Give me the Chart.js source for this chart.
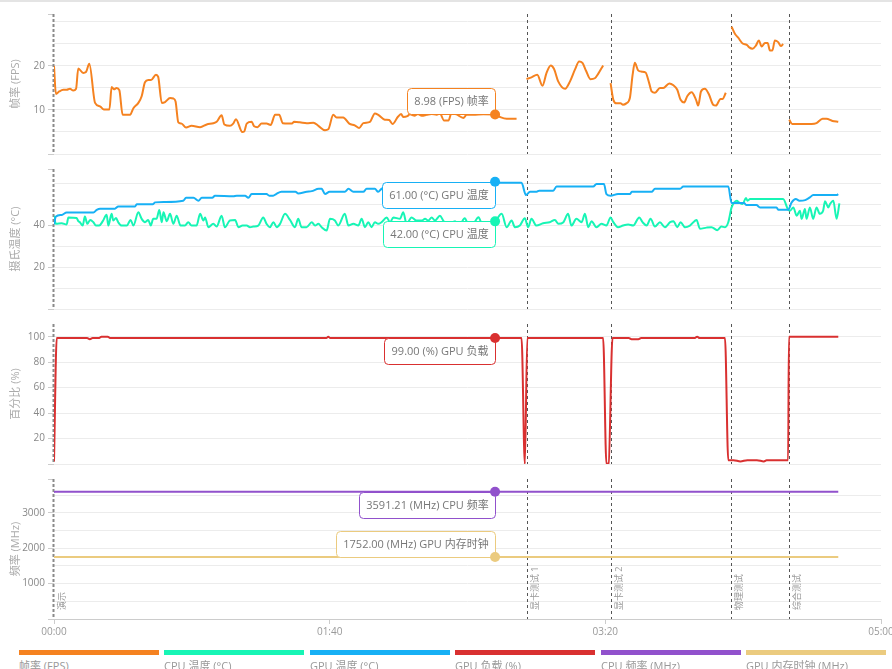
<!DOCTYPE html>
<html>
<head>
<meta charset="utf-8">
<script src="https://cdn.jsdelivr.net/npm/chart.js@4.4.1/dist/chart.umd.min.js"></script>
<style>
  html, body { margin: 0; padding: 0; overflow: hidden; background: #fff; }
  body { width: 892px; height: 669px; position: relative; font-family: 'Open Sans', 'Noto Sans CJK SC', sans-serif; }
  .topline { position: absolute; left: 0; top: 0; width: 892px; height: 2px; background: #e4e4e4; }
  canvas.panel { position: absolute; left: 0; }
  .legend-item { position: absolute; top: 650px; width: 140px; }
  .legend-item .bar { height: 5px; }
  .legend-item .label { font-size: 11px; color: #999; margin-top: 2px; white-space: nowrap; }
</style>
</head>
<body>
<div class="topline"></div>
<script>
const FONT = "'Open Sans', 'Noto Sans CJK SC', sans-serif";
Chart.defaults.font.family = FONT;

// test phases (seconds) and their names
const eventTimes = [0, 171.6, 202, 245.6, 266.6];
const eventNames = ['演示', '显卡测试 1', '显卡测试 2', '物理测试', '综合测试'];
const timeTicks = [0, 100, 200, 300];
const hoverTime = 160;

// [seconds, value]; null = no sample
const fpsSeries = [
  [0,20.0],[0.7,13.6],[1.9,14.2],[3.4,14.6],[4.6,14.6],[5.8,14.8],[7.0,14.4],[8.0,14.8],[8.8,19.4],[10.6,18.4],
  [11.6,18.6],[12.8,20.5],[14.9,11.6],[16.7,10.8],[18.1,10.1],[20.1,10.1],[20.9,15.2],[21.8,14.7],[22.7,15.0],[23.7,14.5],
  [24.9,8.9],[27.6,8.9],[28.8,10.4],[30.6,11.6],[31.8,13.1],[33.0,16.3],[34.2,16.8],[35.2,16.8],[37.0,18.0],[37.8,17.5],
  [39.1,11.6],[40.3,11.8],[42.1,12.7],[43.3,12.6],[44.1,11.9],[45.1,7.2],[46.3,6.9],[47.9,6.0],[49.9,6.4],[53.0,6.1],
  [55.4,6.7],[57.8,7.0],[59.0,7.3],[60.8,8.8],[61.8,6.7],[63.8,6.4],[65.0,6.9],[66.0,7.9],[68.3,5.0],[69.0,5.1],
  [69.9,6.9],[71.7,7.3],[72.6,6.3],[73.8,6.1],[75.3,6.9],[77.1,6.9],[78.6,6.6],[80.2,8.9],[81.7,8.9],[83.0,7.0],
  [85.0,6.9],[86.3,6.9],[87.1,7.3],[89.2,7.2],[91.7,7.0],[94.1,7.1],[95.9,6.4],[98.3,5.4],[99.5,5.6],[101.3,8.9],
  [102.5,8.3],[104.9,8.3],[107.1,6.9],[109.1,6.5],[110.7,5.9],[112.2,7.0],[114.6,7.3],[116.4,9.2],[117.6,8.9],[120.0,7.8],
  [121.6,7.7],[122.8,6.8],[124.7,8.4],[125.9,9.1],[126.7,8.4],[128.2,8.6],[129.1,9.0],[130.9,8.7],[132.0,9.1],[133.4,8.7],
  [135.2,8.9],[137.0,9.1],[138.8,8.9],[140.0,9.2],[141.5,7.6],[143.1,7.6],[144.2,9.3],[146.0,9.0],[148.5,8.2],[149.7,8.9],
  [152.1,8.9],[155.7,9.0],[160,8.98],[161.8,8.4],[164.2,8.0],[167.8,8.0],[169.5,null],
  [171.4,17.0],[173.2,17.4],[175.3,18.0],[177.2,15.5],[178.7,18.5],[180.2,20.1],[181.4,19.3],[182.9,16.5],[185.4,14.8],[187.2,16.5],
  [189.0,19.2],[190.5,21.0],[191.7,20.7],[193.0,18.9],[194.6,17.0],[196.2,17.2],[197.4,18.2],[199.2,20.1],[200.5,null],
  [201.9,16.1],[202.9,12.3],[204.1,11.5],[205.5,11.5],[206.4,11.2],[207.6,11.5],[208.9,12.7],[209.9,18.0],[210.7,20.7],[211.9,19.0],
  [213.2,18.7],[214.6,18.5],[215.9,16.1],[216.8,14.2],[218.0,13.9],[219.8,15.0],[221.0,15.0],[223.2,16.0],[224.7,15.6],[226.1,14.6],
  [227.3,12.3],[228.6,11.7],[229.7,13.1],[231.3,14.0],[232.9,12.3],[233.7,11.0],[234.7,14.2],[236.1,14.8],[237.6,13.5],[239.1,11.2],
  [240.1,11.0],[241.8,12.5],[242.5,12.5],[243.7,13.9],[244.6,null],
  [245.8,28.9],[247.0,27.3],[248.2,26.4],[249.8,25.1],[251.3,24.8],[252.2,24.2],[253.4,23.9],[254.6,24.6],[255.7,25.8],[256.7,24.4],
  [257.9,25.2],[258.9,25.2],[259.7,23.5],[260.6,23.5],[261.5,25.8],[262.7,25.4],[263.7,24.5],[264.5,25.0],[265.5,null],
  [266.7,7.8],[267.8,6.8],[270.2,6.8],[274.8,6.8],[276.6,7.0],[278.8,8.0],[280.2,8.0],[282.4,7.5],[284.5,7.3]
];

const gpuTempSeries = [
  [0,40.6],[0.7,44.3],[2.8,45.1],[4.6,46.2],[14.3,46.2],[15.5,47.5],[16.7,48.1],[22.1,48.1],[23.3,49.1],[29.4,49.1],
  [30.0,50.2],[35.8,50.2],[36.7,51.1],[40.0,51.3],[46.9,51.9],[47.9,53.3],[50.6,53.3],[52.4,51.9],[53.6,53.3],[57.4,53.3],
  [58.4,54.3],[65.0,54.0],[66.3,54.3],[69.3,54.3],[70.5,53.3],[71.7,55.1],[77.1,55.1],[78.1,54.3],[79.5,54.3],[80.6,55.1],
  [82.5,56.2],[87.6,56.2],[88.5,55.4],[91.7,56.2],[93.5,56.5],[96.0,57.6],[97.1,57.6],[98.3,55.1],[100.0,56.2],[105.5,56.2],
  [106.8,57.6],[108.6,56.2],[112.2,56.2],[113.4,57.6],[116.4,57.6],[117.6,56.2],[118.8,57.6],[120.7,58.7],[130.0,58.7],[132.0,60.0],
  [158.0,60.0],[160,61.0],[162.0,60.5],[169.6,60.5],[171.2,54.6],[172.7,56.2],[175.1,56.2],[176.0,56.7],[181.1,56.7],[182.3,58.7],
  [195.6,58.7],[196.8,59.9],[199.5,59.9],[200.4,55.1],[201.9,54.3],[204.6,55.1],[208.9,55.1],[209.6,56.2],[216.8,56.2],[218.0,57.6],
  [227.1,57.6],[228.3,58.7],[244.6,58.7],[245.8,50.8],[250.3,50.8],[251.2,49.8],[254.8,49.8],[256.1,48.7],[262.1,48.7],[262.7,47.6],
  [266.3,47.6],[267.6,51.1],[269.1,52.7],[270.4,51.9],[272.5,52.2],[274.2,53.5],[275.4,54.6],[283.9,54.6],[284.5,55.1]
];

const cpuTempSeries = [
  [0,44.7],[0.7,40.8],[2.8,41.1],[4.6,40.5],[5.2,43.9],[8.2,43.6],[8.8,42.1],[9.4,41.6],[10.4,40.0],[11.2,44.3],
  [12.1,40.8],[13.1,42.7],[14.3,41.6],[15.2,40.0],[16.4,40.0],[17.7,42.1],[19.1,45.2],[19.7,40.0],[20.9,45.6],[21.5,42.4],
  [22.5,43.6],[23.3,41.6],[24.5,40.0],[26.4,40.0],[27.8,42.7],[28.8,40.0],[30.6,46.4],[31.8,43.2],[33.0,41.6],[34.2,42.7],
  [35.1,40.0],[36.0,43.2],[37.2,43.2],[38.2,47.5],[39.1,41.6],[39.7,46.4],[40.9,42.1],[42.1,45.6],[43.3,40.8],[44.5,44.7],
  [45.9,40.0],[47.5,40.0],[48.7,41.6],[49.9,40.0],[51.7,40.0],[53.0,45.6],[54.2,42.4],[54.8,43.9],[56.0,39.2],[57.8,40.8],
  [59.0,39.5],[60.8,44.7],[62.0,39.2],[63.8,42.4],[65.7,42.7],[66.9,39.2],[68.4,40.0],[69.9,40.0],[71.1,39.2],[72.3,39.5],
  [74.1,40.0],[75.9,43.9],[77.1,40.8],[78.3,39.2],[79.6,41.6],[80.8,39.2],[82.0,40.8],[83.8,45.6],[85.6,42.7],[87.4,39.2],
  [88.6,43.2],[89.8,39.2],[91.6,39.2],[93.5,41.6],[94.7,40.0],[95.9,40.8],[97.1,39.2],[98.9,37.6],[100.1,43.2],[101.9,42.4],
  [103.1,40.0],[105.5,45.6],[106.8,40.0],[108.6,40.8],[110.4,40.0],[111.6,43.2],[112.8,39.2],[114.0,41.6],[115.2,39.2],[116.4,41.6],
  [117.6,40.8],[118.8,41.6],[120.7,43.9],[121.9,41.6],[123.1,43.9],[125.5,43.2],[126.7,46.4],[127.9,40.8],[129.7,43.9],[131.5,42.4],
  [133.4,42.4],[134.6,43.2],[135.8,42.4],[137.0,43.9],[138.2,42.4],[140.0,44.7],[141.2,42.4],[143.0,40.0],[145.5,42.0],[147.0,40.0],
  [149.0,43.5],[150.5,40.0],[152.0,40.5],[154.0,44.0],[155.5,40.0],[157.5,41.0],[160,42.0],[162.4,45.6],[164.2,39.2],[166.0,42.4],
  [167.2,39.2],[169.0,40.0],[170.8,43.5],[172.0,39.2],[173.2,43.2],[175.0,40.0],[177.4,41.1],[179.8,41.6],[181.7,42.7],[183.0,40.8],
  [184.8,41.6],[186.5,45.6],[187.7,40.0],[189.5,43.2],[191.4,41.6],[192.6,45.6],[193.8,39.2],[195.0,42.1],[196.8,39.2],[198.6,40.8],
  [200.4,40.0],[201.9,43.9],[202.9,41.6],[204.6,39.2],[206.4,40.0],[208.3,40.5],[210.1,40.0],[212.3,43.9],[213.5,41.6],[215.0,40.0],
  [216.4,43.2],[218.0,39.5],[219.8,41.6],[221.6,39.2],[223.5,41.6],[224.7,42.1],[226.1,39.2],[227.3,41.6],[228.9,39.2],[230.7,40.0],
  [233.1,42.7],[234.3,38.5],[236.7,39.0],[238.5,39.2],[240.6,37.8],[242.1,39.5],[243.4,39.2],[244.6,41.6],[245.8,48.7],[246.8,51.1],
  [247.7,51.9],[248.5,51.1],[249.8,50.3],[251.0,53.2],[251.6,51.9],[252.5,52.7],[264.5,52.7],[266.3,47.6],[267.0,47.1],[268.2,48.7],
  [269.4,44.7],[270.6,47.1],[271.2,43.2],[272.4,47.9],[273.0,43.2],[274.2,48.7],[275.4,43.2],[276.6,48.7],[277.8,45.6],[279.0,47.1],
  [279.7,51.6],[280.9,48.7],[281.5,50.3],[282.7,51.9],[283.9,43.2],[284.9,50.6]
];

const gpuLoadSeries = [
  [0,2],[1.0,99],[12.0,99],[13.0,98],[14.0,99],[16.4,99],[17.2,100],[19.5,100],[20.3,99],[98.8,99],
  [99.5,100],[100.2,99],[160,99],[169.6,99],[170.8,0],[171.7,99],[199.2,99],[200.4,0],[201.2,0.5],[202.6,99],
  [208.5,99],[209.5,98],[212.0,98],[213.0,99],[232.5,99],[233.3,100],[234.2,99],[243.4,99],[244.6,3],[246.5,3],
  [249.0,2],[251.5,3],[255.0,3],[257.5,2],[258.5,3],[266.3,3],[266.6,100],[284.5,100]
];

const cpuFreqSeries = [
  [0,3588],[1,3591],[30,3593],[60,3589],[90,3592],[120,3590],[160,3591.21],[200,3589],[230,3592],[245.6,3590],
  [266.6,3592],[284.5,3591]
];

const memClockSeries = [[0,1752],[160,1752],[284.5,1752]];

// tick values that carry a label on each y axis
const fpsTickLabels = [10, 20];
const tempTickLabels = [20, 40];
const loadTickLabels = [20, 40, 60, 80, 100];
const freqTickLabels = [1000, 2000, 3000];

const S = {
  fps:     { name: '帧率', unit: 'FPS', legend: '帧率 (FPS)', color: '#f58220', points: fpsSeries, below: false },
  cpuTemp: { name: 'CPU 温度', unit: '°C', legend: 'CPU 温度 (°C)', color: '#17f5b5', points: cpuTempSeries, below: true },
  gpuTemp: { name: 'GPU 温度', unit: '°C', legend: 'GPU 温度 (°C)', color: '#17b0f5', points: gpuTempSeries, below: true },
  gpuLoad: { name: 'GPU 负载', unit: '%', legend: 'GPU 负载 (%)', color: '#d93030', points: gpuLoadSeries, below: true },
  cpuFreq: { name: 'CPU 频率', unit: 'MHz', legend: 'CPU 频率 (MHz)', color: '#9151cc', points: cpuFreqSeries, below: true },
  memClock:{ name: 'GPU 内存时钟', unit: 'MHz', legend: 'GPU 内存时钟 (MHz)', color: '#ebcb7f', points: memClockSeries, below: false }
};

const panels = [
  { top: 14,  title: '帧率 (FPS)',    step: 5,   labels: fpsTickLabels,  series: [S.fps] },
  { top: 169, title: '摄氏温度 (°C)', step: 10,  labels: tempTickLabels, series: [S.gpuTemp, S.cpuTemp] },
  { top: 324, title: '百分比 (%)',    step: 10,  labels: loadTickLabels, series: [S.gpuLoad] },
  { top: 479, title: '频率 (MHz)',    step: 500, labels: freqTickLabels, series: [S.cpuFreq, S.memClock] }
];

function fmtTime(v) {
  const m = Math.floor(v / 60), s = Math.round(v % 60);
  return String(m).padStart(2, '0') + ':' + String(s).padStart(2, '0');
}

const eventPlugin = {
  id: 'phaseLines',
  beforeDatasetsDraw(chart, args, opts) {
    const { ctx, chartArea: a, scales: { x } } = chart;
    ctx.save();
    eventTimes.forEach((t, i) => {
      const px = Math.round(x.getPixelForValue(t));
      ctx.beginPath();
      if (i === 0) {
        ctx.setLineDash([3, 2]); ctx.lineWidth = 2; ctx.strokeStyle = '#8a8a8a';
        ctx.moveTo(px - 0.5, a.top); ctx.lineTo(px - 0.5, a.bottom);
      } else {
        ctx.setLineDash([3, 3]); ctx.lineWidth = 1; ctx.strokeStyle = '#555';
        ctx.moveTo(px + 0.5, a.top); ctx.lineTo(px + 0.5, a.bottom);
      }
      ctx.stroke();
      if (opts.labels) {
        ctx.save();
        ctx.setLineDash([]);
        ctx.translate(px + 8, a.bottom - 9);
        ctx.rotate(-Math.PI / 2);
        ctx.font = '9px ' + FONT;
        ctx.fillStyle = '#999';
        ctx.textAlign = 'left';
        ctx.textBaseline = 'middle';
        ctx.fillText(eventNames[i], 0, 0);
        ctx.restore();
      }
    });
    ctx.restore();
  }
};

const hoverPlugin = {
  id: 'hoverBoxes',
  afterDatasetsDraw(chart) {
    const { ctx, scales } = chart;
    chart.data.datasets.forEach(ds => {
      const pt = ds.data.find(d => d.x === hoverTime);
      if (!pt) return;
      const px = scales.x.getPixelForValue(pt.x);
      const py = scales.y.getPixelForValue(pt.y);
      const text = pt.y.toFixed(2) + ' (' + ds.unit + ') ' + ds.label;
      ctx.save();
      ctx.font = '11px ' + FONT;
      const w = Math.round(ctx.measureText(text).width + 14), h = 26;
      const bx = Math.round(px - w) + 0.5;
      const by = Math.round(ds.below ? py : py - h) + 0.5;
      ctx.beginPath();
      ctx.roundRect(bx, by, w, h, 4);
      ctx.fillStyle = '#fff';
      ctx.fill();
      ctx.lineWidth = 1;
      ctx.strokeStyle = ds.borderColor;
      ctx.stroke();
      ctx.fillStyle = '#777';
      ctx.textAlign = 'center';
      ctx.textBaseline = 'middle';
      ctx.fillText(text, bx + w / 2, by + h / 2 + 0.5);
      ctx.beginPath();
      ctx.arc(px, py, 5, 0, Math.PI * 2);
      ctx.fillStyle = ds.borderColor;
      ctx.fill();
      ctx.restore();
    });
  }
};

const W = 910, PLOT_H = 140, PAD = 10, X_AXIS_H = 26, RIGHT = 881;

panels.forEach((p, i) => {
  const last = i === panels.length - 1;
  const h = PAD + PLOT_H + (last ? X_AXIS_H : PAD);
  const cv = document.createElement('canvas');
  cv.className = 'panel';
  cv.width = W; cv.height = h;
  cv.style.width = W + 'px'; cv.style.height = h + 'px';
  cv.style.top = (p.top - PAD) + 'px';
  document.body.appendChild(cv);

  const vals = p.series.flatMap(s => s.points.map(d => d[1]).filter(v => v !== null));
  const yMax = Math.max(...vals) * 1.1;
  const isStep = v => Math.abs(v / p.step - Math.round(v / p.step)) < 1e-6;

  new Chart(cv, {
    type: 'line',
    data: {
      datasets: p.series.map(s => ({
        label: s.name,
        unit: s.unit,
        below: s.below,
        data: s.points.map(d => ({ x: d[0], y: d[1] })),
        borderColor: s.color,
        backgroundColor: s.color,
        borderWidth: 2,
        pointRadius: 0,
        cubicInterpolationMode: 'monotone',
        spanGaps: false,
        fill: false
      }))
    },
    options: {
      responsive: false,
      animation: false,
      events: [],
      layout: { padding: { left: 0, right: W - RIGHT, top: PAD, bottom: last ? 0 : PAD } },
      plugins: {
        legend: { display: false },
        tooltip: { enabled: false },
        phaseLines: { labels: last }
      },
      scales: {
        x: {
          type: 'linear',
          min: 0,
          max: 300,
          display: last,
          afterBuildTicks: ax => { ax.ticks = timeTicks.map(v => ({ value: v })); },
          afterFit: ax => { if (last) ax.height = X_AXIS_H; },
          grid: { drawOnChartArea: false, drawTicks: true, tickLength: 5, color: '#ccc' },
          border: { color: '#ccc' },
          ticks: { color: '#999', font: { size: 10 }, padding: 2, maxRotation: 0, callback: v => fmtTime(v) }
        },
        y: {
          min: 0,
          max: yMax,
          afterBuildTicks: ax => {
            const t = [];
            for (let v = 0; v < yMax - 1e-6; v += p.step) t.push({ value: v });
            t.push({ value: yMax });
            ax.ticks = t;
          },
          afterFit: ax => { ax.width = 54; },
          border: { display: false },
          grid: {
            color: c => (c.tick && !isStep(c.tick.value)) ? 'rgba(0,0,0,0)' : '#ececec',
            tickColor: c => {
              const v = c.tick ? c.tick.value : 0;
              return (p.labels.includes(v) || v === 0 || !isStep(v) || Math.abs(v - yMax) < 1e-6) ? '#ccc' : 'rgba(0,0,0,0)';
            },
            tickLength: 6,
            lineWidth: 1
          },
          ticks: {
            color: '#888',
            font: { size: 10 },
            padding: 3,
            callback: v => p.labels.includes(v) ? String(v) : ''
          },
          title: {
            display: true,
            text: p.title,
            color: '#aaa',
            font: { size: 11 },
            padding: { top: 9, bottom: 0 }
          }
        }
      }
    },
    plugins: [eventPlugin, hoverPlugin]
  });
});

// legend strip under the chart
const legendOrder = [S.fps, S.cpuTemp, S.gpuTemp, S.gpuLoad, S.cpuFreq, S.memClock];
legendOrder.forEach((s, i) => {
  const item = document.createElement('div');
  item.className = 'legend-item';
  item.style.left = Math.round(19 + i * 145.4) + 'px';
  const bar = document.createElement('div');
  bar.className = 'bar';
  bar.style.background = s.color;
  const lab = document.createElement('div');
  lab.className = 'label';
  lab.textContent = s.legend;
  item.appendChild(bar);
  item.appendChild(lab);
  document.body.appendChild(item);
});
</script>
</body>
</html>
